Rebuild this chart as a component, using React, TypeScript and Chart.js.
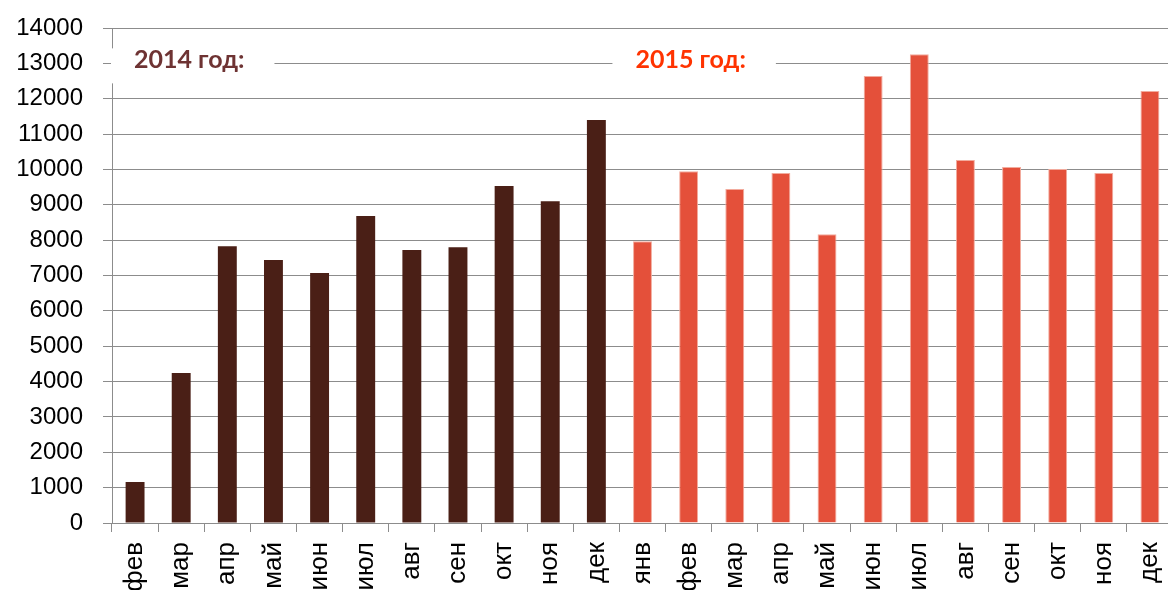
import React, { useEffect, useRef } from 'react';
import { Chart, registerables } from 'chart.js';

Chart.register(...registerables);

const months2014 = ['фев', 'мар', 'апр', 'май', 'июн', 'июл', 'авг', 'сен', 'окт', 'ноя', 'дек'];
const values2014 = [1160, 4240, 7830, 7440, 7070, 8680, 7720, 7800, 9530, 9100, 11400];
const months2015 = ['янв', 'фев', 'мар', 'апр', 'май', 'июн', 'июл', 'авг', 'сен', 'окт', 'ноя', 'дек'];
const values2015 = [7970, 9950, 9450, 9900, 8170, 12640, 13260, 10270, 10070, 10010, 9900, 12220];
const yearLabels = ['2014 год:', '2015 год:'];
const yMin = 0;
const yMax = 14000;
const yStep = 1000;
const yearLabelValue = 13000;

const color2014 = '#4a1f16';
const color2015 = '#e4503a';
const border2015 = '#f2ab9d';
const gridColor = '#8c8c8c';

const yearLabelPlugin = {
  id: 'yearLabels',
  afterDraw(chart: any) {
    const { ctx, chartArea, scales } = chart;
    const xs = scales.x;
    const ys = scales.y;
    const yc = ys.getPixelForValue(yearLabelValue);
    const half = (xs.getPixelForValue(1) - xs.getPixelForValue(0)) / 2;
    const boundary = xs.getPixelForValue(months2014.length) - half;
    ctx.save();
    ctx.font = 'bold 25px Lato';
    ctx.textBaseline = 'alphabetic';
    ctx.textAlign = 'left';
    const items = [
      { text: yearLabels[0], color: '#6e3333', boxLeft: chartArea.left - 1, textLeft: chartArea.left + 22 },
      { text: yearLabels[1], color: '#ff3300', boxLeft: boundary - 7, textLeft: boundary + 16 },
    ];
    items.forEach((it) => {
      const w = ctx.measureText(it.text).width;
      ctx.fillStyle = '#ffffff';
      ctx.fillRect(it.boxLeft, yc - 15, it.textLeft + w + 30 - it.boxLeft, 35);
      ctx.fillStyle = it.color;
      ctx.fillText(it.text, it.textLeft, yc + 5);
    });
    ctx.restore();
  },
};

export default function App() {
  const ref = useRef<HTMLCanvasElement | null>(null);

  useEffect(() => {
    if (!ref.current) return;
    const labels = [...months2014, ...months2015];
    const data = [...values2014, ...values2015];
    const bg = [...months2014.map(() => color2014), ...months2015.map(() => color2015)];
    const bc = [...months2014.map(() => color2014), ...months2015.map(() => border2015)];
    const bw = [...months2014.map(() => 0), ...months2015.map(() => 1)];
    const chart = new Chart(ref.current, {
      type: 'bar',
      data: {
        labels,
        datasets: [
          {
            data,
            backgroundColor: bg,
            borderColor: bc,
            borderWidth: bw,
            barPercentage: 0.41,
            categoryPercentage: 1,
          },
        ],
      },
      options: {
        responsive: false,
        animation: false,
        devicePixelRatio: 1,
        layout: { padding: { top: 28, right: 0, left: 0, bottom: 0 } },
        plugins: {
          legend: { display: false },
          tooltip: { enabled: false },
          title: { display: false },
        },
        scales: {
          x: {
            grid: {
              offset: true,
              drawOnChartArea: false,
              tickLength: 9,
              color: gridColor,
            },
            border: { color: gridColor },
            ticks: {
              autoSkip: false,
              minRotation: 90,
              maxRotation: 90,
              padding: 10,
              color: '#000',
              font: { family: 'Liberation Sans', size: 26 },
            },
            afterFit: (scale: any) => {
              scale.height = 80;
              scale.paddingLeft = 0;
              scale.paddingRight = 0;
            },
          },
          y: {
            min: yMin,
            max: yMax,
            grid: { color: gridColor, tickLength: 9 },
            border: { color: gridColor },
            ticks: {
              stepSize: yStep,
              padding: 20,
              color: '#000',
              font: { family: 'Liberation Sans', size: 24 },
              callback: (v: any) => String(v),
            },
            afterFit: (scale: any) => {
              scale.width = 112;
              scale.paddingTop = 0;
              scale.paddingBottom = 0;
            },
          },
        },
      },
      plugins: [yearLabelPlugin],
    });
    return () => chart.destroy();
  }, []);

  return (
    <div
      style={{
        position: 'fixed',
        left: 0,
        top: 0,
        width: 1168,
        height: 590,
        overflow: 'hidden',
        background: '#fff',
      }}
    >
      <canvas ref={ref} width={1173} height={603} style={{ display: 'block' }} />
    </div>
  );
}
